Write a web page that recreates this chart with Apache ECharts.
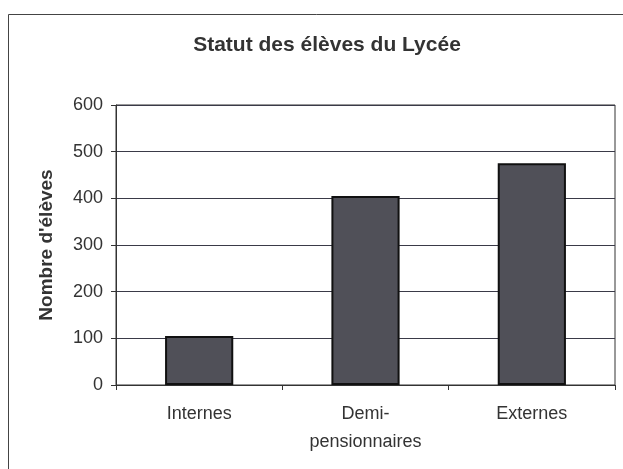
<!DOCTYPE html>
<html>
<head>
<meta charset="utf-8">
<script src="https://cdn.jsdelivr.net/npm/echarts@6/dist/echarts.min.js"></script>
<style>
  html, body { margin: 0; padding: 0; background: #fff; }
  #chart { width: 623px; height: 469px; }
</style>
</head>
<body>
<div id="chart"></div>
<script>
const categories = ['Internes', 'Demi-\npensionnaires', 'Externes'];
const values = [105, 405, 475];
const yTicks = [0, 100, 200, 300, 400, 500, 600];

const chart = echarts.init(document.getElementById('chart'));
const font = '"Liberation Sans", Arial, sans-serif';

const option = {
  backgroundColor: '#fff',
  animation: false,
  title: {
    text: 'Statut des élèves du Lycée',
    left: 322,
    top: 30,
    textAlign: 'center',
    textStyle: { fontFamily: font, fontSize: 21, fontWeight: 'bold', color: '#333' }
  },
  graphic: [{
    type: 'rect',
    shape: { x: 8.5, y: 14.5, width: 640, height: 480 },
    style: { fill: 'none', stroke: '#444', lineWidth: 1 },
    z: -1
  }],
  grid: {
    left: 116, right: 8, top: 105, bottom: 84,
    show: true, borderColor: '#333', borderWidth: 1
  },
  xAxis: {
    type: 'category',
    data: categories,
    axisLine: { lineStyle: { color: '#333' } },
    axisTick: { show: true, length: 5, lineStyle: { color: '#333' } },
    axisLabel: { fontFamily: font, fontSize: 18, color: '#333', margin: 15, lineHeight: 28 }
  },
  yAxis: {
    type: 'value',
    min: yTicks[0],
    max: yTicks[yTicks.length - 1],
    interval: 100,
    name: "Nombre d'élèves",
    nameLocation: 'middle',
    nameGap: 60,
    nameTextStyle: { fontFamily: font, fontSize: 19, fontWeight: 'bold', color: '#333' },
    axisLine: { show: true, lineStyle: { color: '#333' } },
    axisTick: { show: true, length: 5, lineStyle: { color: '#333' } },
    axisLabel: { fontFamily: font, fontSize: 18, color: '#333', margin: 13 },
    splitLine: { lineStyle: { color: '#3a3a48', width: 1 } }
  },
  series: [{
    type: 'bar',
    data: values,
    barWidth: '41%',
    itemStyle: { color: '#505058', borderColor: '#111', borderWidth: 2 }
  }]
};

chart.setOption(option);
</script>
</body>
</html>
